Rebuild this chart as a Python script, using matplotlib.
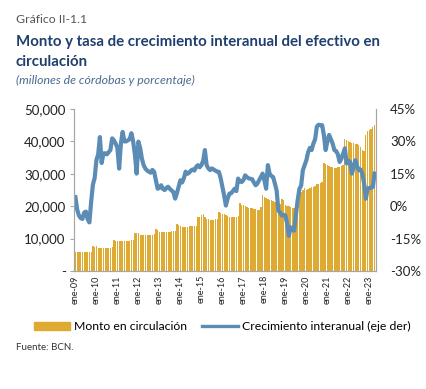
import numpy as np
import matplotlib
matplotlib.use("Agg")
import matplotlib.pyplot as plt
from matplotlib.patches import Patch
from matplotlib.lines import Line2D

# Monto en circulación (millones de córdobas), mensual ene-2009 a abr-2023
monto_2009 = [5.9, 5.8, 5.8, 5.8, 5.8, 5.8, 5.8, 5.8, 5.8, 5.9, 7.7, 7.5]
monto_2010 = [7.6, 7.2, 7.2, 7.2, 7.2, 7.1, 7.2, 7.2, 7.2, 7.3, 9.5, 9.3]
monto_2011 = [9.3, 9.2, 9.2, 9.2, 9.3, 9.2, 9.3, 9.3, 9.6, 9.5, 11.6, 11.7]
monto_2012 = [11.6, 11.1, 11.0, 11.1, 11.0, 11.1, 11.2, 11.1, 11.2, 11.3, 13.0, 12.8]
monto_2013 = [12.0, 11.9, 11.9, 12.0, 12.0, 12.1, 12.1, 12.2, 12.2, 12.2, 14.5, 14.2]
monto_2014 = [13.8, 13.6, 13.5, 13.6, 13.7, 13.8, 13.9, 13.9, 14.0, 14.0, 16.6, 16.7]
monto_2015 = [17.2, 17.7, 16.8, 16.2, 16.0, 15.8, 15.7, 15.8, 15.9, 16.0, 18.2, 18.0]
monto_2016 = [17.7, 17.5, 17.2, 17.0, 16.8, 16.7, 16.6, 16.7, 16.8, 16.9, 20.9, 20.5]
monto_2017 = [20.3, 20.0, 19.8, 19.6, 19.4, 19.3, 19.1, 19.0, 18.9, 18.8, 19.7, 23.4]
monto_2018 = [22.8, 22.5, 22.3, 22.0, 21.8, 21.5, 21.2, 21.0, 20.8, 20.6, 22.3, 22.0]
monto_2019 = [20.5, 20.2, 20.0, 19.8, 19.6, 19.5, 19.8, 22.0, 24.0, 24.5, 25.0, 25.5]
monto_2020 = [25.0, 25.2, 25.5, 25.8, 26.0, 26.3, 26.8, 27.0, 27.2, 27.5, 33.3, 33.0]
monto_2021 = [32.8, 32.5, 32.2, 32.0, 31.8, 31.8, 32.0, 32.2, 32.4, 32.6, 40.7, 40.5]
monto_2022 = [40.0, 39.8, 39.6, 39.5, 39.3, 39.1, 38.8, 38.3, 37.5, 37.0, 42.0, 43.3]
monto_2023 = [43.5, 43.8, 44.3, 45.0]

# Crecimiento interanual (%)
crec_2009 = [4.2, -1.5, -4.3, -5.5, -5.9, -3.0, -2.5, -6.0, -7.5, 2.0, 10.0, 13.0]
crec_2010 = [21.3, 24.0, 32.0, 20.0, 24.4, 24.5, 24.0, 25.0, 26.0, 31.4, 30.5, 29.0]
crec_2011 = [27.0, 17.4, 29.0, 34.4, 30.0, 30.0, 30.5, 31.0, 33.8, 30.0, 24.0, 15.1]
crec_2012 = [29.9, 27.0, 22.0, 19.0, 17.4, 16.5, 16.0, 15.5, 16.8, 15.9, 12.0, 8.1]
crec_2013 = [8.5, 9.7, 8.0, 7.5, 8.5, 9.0, 8.0, 7.3, 6.5, 3.5, 6.0, 9.0]
crec_2014 = [12.0, 11.0, 13.0, 16.0, 15.0, 15.5, 16.5, 17.0, 16.5, 18.2, 19.0, 18.0]
crec_2015 = [19.0, 21.0, 26.0, 19.0, 17.5, 16.7, 17.5, 17.0, 16.5, 16.0, 15.9, 13.0]
crec_2016 = [9.0, 5.0, 0.3, 3.5, 5.8, 6.0, 7.0, 8.1, 7.0, 12.8, 11.5, 11.2]
crec_2017 = [12.0, 14.3, 13.5, 12.9, 12.7, 12.5, 11.0, 9.7, 10.5, 12.0, 13.5, 15.1]
crec_2018 = [12.0, 8.1, 19.0, 15.0, 14.0, 13.5, 10.5, 7.3, -2.0, -3.0, -4.3, -4.0]
crec_2019 = [-4.3, -8.0, -13.7, -9.8, -11.0, -11.3, -4.0, 2.7, 8.0, 9.5, 16.7, 19.0]
crec_2020 = [21.3, 25.0, 27.0, 26.0, 29.0, 31.0, 36.9, 37.7, 37.5, 37.5, 33.0, 26.0]
crec_2021 = [30.0, 33.0, 31.0, 29.0, 26.0, 25.5, 24.0, 20.5, 22.0, 24.4, 26.8, 19.8]
crec_2022 = [21.0, 20.5, 15.1, 18.0, 21.3, 18.5, 16.7, 17.0, 15.0, 10.5, 3.5, 8.2]
crec_2023 = [8.4, 8.6, 9.0, 15.1]

anios = list(range(2009, 2024))
etiquetas = ["ene-%02d" % (a % 100) for a in anios]

monto = np.array(monto_2009 + monto_2010 + monto_2011 + monto_2012 + monto_2013
                 + monto_2014 + monto_2015 + monto_2016 + monto_2017 + monto_2018
                 + monto_2019 + monto_2020 + monto_2021 + monto_2022 + monto_2023) * 1000
crec = np.array(crec_2009 + crec_2010 + crec_2011 + crec_2012 + crec_2013
                + crec_2014 + crec_2015 + crec_2016 + crec_2017 + crec_2018
                + crec_2019 + crec_2020 + crec_2021 + crec_2022 + crec_2023)
x = np.arange(len(monto))

oro = "#DFAA32"
azul = "#5B8CB5"
gris = "#A6A6A6"

plt.rcParams["font.family"] = ["Lato", "DejaVu Sans"]

fig = plt.figure(figsize=(4.27, 3.89), dpi=100)
ax = fig.add_axes([0.1733, 0.3033, 0.7073, 0.4165])
ax2 = ax.twinx()

ax.bar(x, monto, width=0.72, color=oro, linewidth=0)
ax2.plot(x, crec, color=azul, linewidth=3.0, solid_joinstyle="round")

ax.set_xlim(-0.8, len(x) - 0.2)
ax.set_ylim(0, 50000)
ax2.set_ylim(-30, 45)

ax.set_yticks(range(0, 50001, 10000))
ax.set_yticklabels(["-", "10,000", "20,000", "30,000", "40,000", "50,000"], fontsize=9.5)
ax2.set_yticks(range(-30, 46, 15))
ax2.set_yticklabels(["%d%%" % v for v in range(-30, 46, 15)], fontsize=9.5)

ax.set_xticks(x[::12])
ax.set_xticklabels(etiquetas, rotation=90, fontsize=6.5)

for a in (ax, ax2):
    a.spines["top"].set_visible(False)
    for s in ("left", "right", "bottom"):
        a.spines[s].set_color(gris)
    a.tick_params(colors=gris, labelcolor="#222222", length=3)
ax.tick_params(axis="x", length=0, pad=3)
ax2.tick_params(axis="y", length=0, pad=10)
ax.tick_params(axis="y", pad=3)

fig.text(0.037, 0.951, "Gráfico II-1.1", fontsize=8.8, color="#555555", va="center")
fig.text(0.037, 0.893, "Monto y tasa de crecimiento interanual del efectivo en",
         fontsize=10.8, fontweight="bold", color="#1F3F6E", va="center")
fig.text(0.037, 0.841, "circulación", fontsize=10.8, fontweight="bold",
         color="#1F3F6E", va="center")
fig.text(0.037, 0.793, "(millones de córdobas y porcentaje)", fontsize=8.8,
         style="italic", color="#4A6A90", va="center")

handles = [Patch(color=oro), Line2D([0], [0], color=azul, linewidth=2.4)]
fig.legend(handles, ["Monto en circulación", "Crecimiento interanual (eje der)"],
           loc="center", bbox_to_anchor=(0.52, 0.16), ncol=2, frameon=False,
           fontsize=8.8, handlelength=3.0, handletextpad=0.3, columnspacing=1.2)

fig.text(0.037, 0.107, "Fuente: BCN.", fontsize=7, color="#333333", va="center")

fig.savefig("out.png", dpi=100)
